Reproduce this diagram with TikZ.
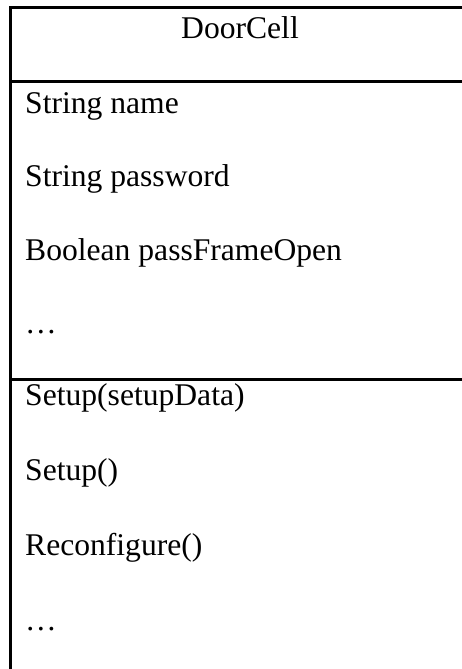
\documentclass[tikz,border=0pt]{standalone}
\usepackage{fontspec}
\setmainfont{Liberation Serif}
\tikzset{
  member/.style={anchor=base west, inner sep=0pt, font=\fontsize{31.6}{37}\selectfont},
  title/.style={anchor=base, inner sep=0pt, font=\fontsize{31.6}{37}\selectfont},
  rule/.style={line width=3pt}
}
\begin{document}
\begin{tikzpicture}[x=1pt,y=1pt]
\useasboundingbox (0,0) rectangle (462,-669);
% frame of the class box
\coordinate (tl) at (10,-8);
\coordinate (tr) at (462,-8);
\coordinate (bl) at (10,-669);
\coordinate (d1l) at (10,-81);
\coordinate (d1r) at (462,-81);
\coordinate (d2l) at (10,-379);
\coordinate (d2r) at (462,-379);
\draw[rule] (tr) -- (tl) -- (bl);
\draw[rule] (d1l) -- (d1r);
\draw[rule] (d2l) -- (d2r);
% class name
\node[title] (name) at (240,-38) {DoorCell};
% attributes
\node[member] (a1) at (25,-113) {String name};
\node[member] (a2) at (25,-186.5) {String password};
\node[member] (a3) at (25,-260) {Boolean passFrameOpen};
\node[member] (a4) at (25,-333) {…};
% operations
\node[member] (m1) at (25,-405) {Setup(setupData)};
\node[member] (m2) at (25,-480) {Setup()};
\node[member] (m3) at (25,-555) {Reconfigure()};
\node[member] (m4) at (25,-630) {…};
\end{tikzpicture}
\end{document}
